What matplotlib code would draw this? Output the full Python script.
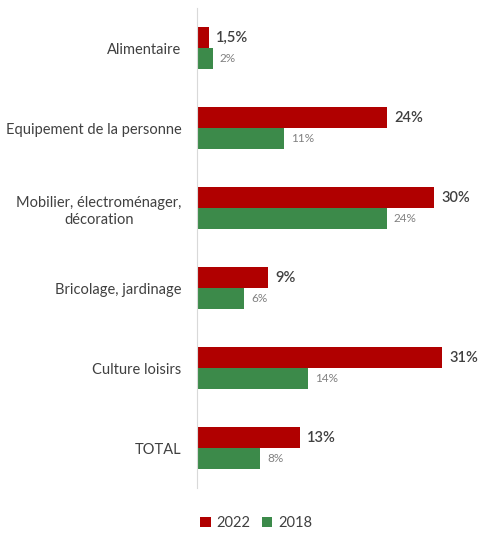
import matplotlib.pyplot as plt
import numpy as np

categories = ['Alimentaire', 'Equipement de la personne', 'Mobilier, électroménager,\ndécoration',
              'Bricolage, jardinage', 'Culture loisirs', 'TOTAL']
v2022 = [1.5, 24, 30, 9, 31, 13]
v2018 = [2, 11, 24, 6, 14, 8]
lab2022 = ['1,5%', '24%', '30%', '9%', '31%', '13%']
lab2018 = ['2%', '11%', '24%', '6%', '14%', '8%']

plt.rcParams['font.family'] = ['Lato', 'DejaVu Sans']
red, green = '#B00000', '#3C8A4A'

fig = plt.figure(figsize=(4.79, 5.34), dpi=100)
ax = fig.add_axes([0.411, 0.086, 0.57, 0.899])
y = np.arange(len(categories))
h = 0.262
ax.barh(y - h / 2, v2022, height=h, color=red, label='2022')
ax.barh(y + h / 2, v2018, height=h, color=green, label='2018')
for i in range(len(categories)):
    ax.text(v2022[i] + 0.9, y[i] - h / 2, lab2022[i], va='center', ha='left',
            fontsize=10.5, fontweight='semibold', color='#404040')
    ax.text(v2018[i] + 0.9, y[i] + h / 2, lab2018[i], va='center', ha='left',
            fontsize=8.5, color='#808080')

ax.set_ylim(len(categories) - 0.5, -0.5)
ax.set_xlim(0, 34.5)
ax.set_yticks(y)
ax.set_yticklabels(categories, fontsize=10.5, color='#404040', ha='right',
                   multialignment='center', linespacing=1.3)
ax.tick_params(axis='y', length=0, pad=11)
ax.set_xticks([])
for s in ['top', 'right', 'bottom']:
    ax.spines[s].set_visible(False)
ax.spines['left'].set_color('#D9D9D9')

fig.legend(loc='center', bbox_to_anchor=(0.535, 0.02), ncol=2, frameon=False,
           fontsize=10.5, handlelength=0.7, handleheight=0.7, columnspacing=0.8,
           handletextpad=0.4, labelcolor='#404040', borderpad=0.2)
fig.savefig('out.png', dpi=100)
